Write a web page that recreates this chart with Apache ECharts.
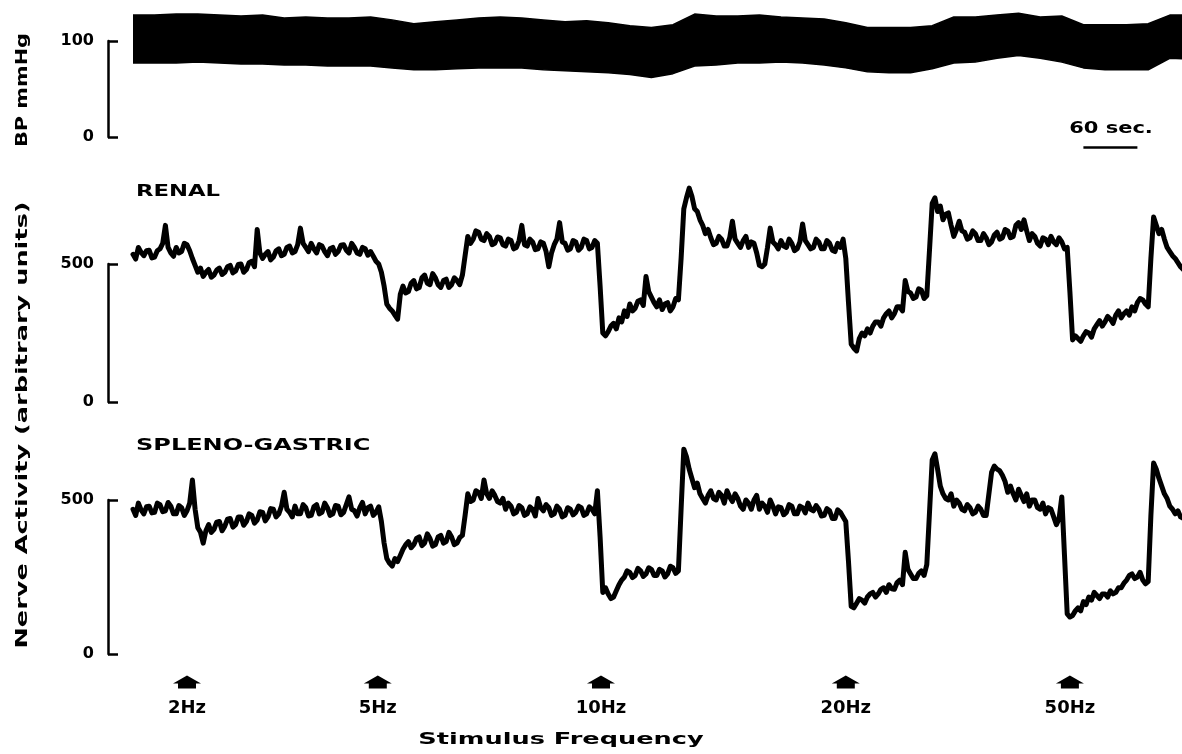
<!DOCTYPE html>
<html>
<head>
<meta charset="utf-8">
<script src="https://cdn.jsdelivr.net/npm/echarts@6/dist/echarts.min.js"></script>
<style>
html,body{margin:0;padding:0;background:#fff;}
#chart{width:1182px;height:754px;}
</style>
</head>
<body>
<div id="chart"></div>
<script>
// ---- DATA ----
// Time axis in seconds (0 = first sample of the traces)
const TIME_STEP = 3;      // nerve trace sample spacing (s)
const BP_STEP = 24;       // BP envelope sample spacing (s)
const X_MIN = -27.78;
const X_MAX = 1165.56;

// Blood pressure envelope (mmHg)
const bpTop = [127,127,128,128,127,126,127,124,125,124,124,125,122,118,120,122,124,125,124,122,
  120,121,119,116,114,117,128,126,126,127,125,124,123,119,114,114,114,116,125,125,
  127,129,125,126,117,117,117,118,127,127];
const bpBottom = [77,77,77,78,77,76,76,75,75,74,74,74,72,70,70,71,72,72,72,70,
  69,68,67,65,62,66,74,75,77,77,78,77,75,72,68,67,67,71,77,78,
  82,85,82,78,72,70,70,70,82,81];

// Renal nerve activity (arbitrary units)
const renal = [
  535,518,560,542,530,548,550,522,525,548,555,575,640,560,540,528,560,540,545,575,
  570,548,520,495,470,485,455,470,480,452,460,478,485,462,470,490,495,468,475,498,
  500,470,480,505,510,490,625,540,520,535,545,515,525,548,555,530,535,560,565,540,
  545,570,630,575,560,545,575,555,540,570,565,545,530,555,560,535,545,568,570,550,
  540,575,560,540,535,560,555,532,545,528,510,500,470,420,355,340,330,315,300,390,
  420,395,400,430,440,410,415,450,460,430,425,465,450,425,415,440,445,415,425,450,
  440,425,460,530,600,575,590,620,615,590,585,610,600,570,575,598,595,570,565,590,
  585,555,560,585,640,570,565,590,580,552,555,580,575,545,490,540,570,590,650,580,
  575,550,555,585,580,550,560,590,585,555,560,585,575,420,250,240,255,275,285,265,
  305,290,330,310,355,330,340,365,370,350,455,400,380,360,345,370,335,355,360,330,
  345,375,370,520,700,740,775,745,700,690,660,640,610,625,595,570,575,600,590,565,
  565,595,655,590,575,560,585,600,560,580,575,540,495,490,500,560,630,580,570,555,
  585,565,560,590,575,548,555,580,645,585,570,555,560,590,580,555,555,585,575,550,
  545,575,560,590,520,360,210,195,185,230,250,240,265,250,275,290,290,275,305,320,
  330,305,320,345,345,330,440,400,395,375,380,410,405,375,385,550,720,740,690,710,
  660,680,685,640,600,625,655,620,615,590,595,620,610,585,585,610,595,570,580,605,
  615,590,595,625,620,595,600,640,650,625,660,620,585,610,600,575,565,595,590,570,
  600,580,570,595,580,555,560,400,225,240,230,220,240,255,250,235,265,280,295,275,
  290,310,300,285,315,330,305,320,330,315,345,330,360,375,370,355,345,520,670,640,
  610,625,590,560,545,530,520,505,490,480];

// Spleno-gastric nerve activity (arbitrary units)
const spleno = [
  470,450,490,468,455,478,480,458,460,490,485,462,465,492,480,455,455,482,475,450,
  465,490,565,470,410,395,360,400,420,395,405,428,430,400,415,438,440,412,420,445,
  445,418,430,455,450,425,435,462,460,432,445,472,470,445,455,480,525,470,460,445,
  480,455,455,485,475,448,450,478,485,455,460,490,475,450,455,482,480,452,460,485,
  510,470,465,448,475,492,455,475,480,450,460,478,430,360,310,295,285,310,300,320,
  340,355,365,345,355,375,380,352,360,390,375,350,355,380,385,360,365,395,380,355,
  360,378,385,450,520,495,500,530,525,505,565,520,505,530,515,495,490,505,470,490,
  480,455,460,482,475,450,455,478,470,448,505,475,465,485,475,450,455,480,470,445,
  450,475,470,452,460,480,475,450,455,478,470,455,530,380,200,215,195,180,185,205,
  225,240,250,270,265,248,255,278,270,252,260,280,275,255,255,275,270,250,260,285,
  280,262,270,470,665,640,600,570,540,555,520,505,490,515,530,505,500,525,515,490,
  530,510,495,520,505,480,470,500,490,470,500,515,470,490,480,460,500,480,455,478,
  475,452,460,485,480,455,455,480,475,458,490,470,465,482,470,448,450,472,465,440,
  440,468,460,445,430,300,155,150,165,180,175,165,185,195,200,185,195,210,215,200,
  225,212,210,232,240,225,330,275,260,245,245,262,270,255,290,460,630,650,600,545,
  520,505,500,520,480,500,490,470,465,485,475,455,460,480,470,450,450,520,590,610,
  600,595,580,560,525,545,520,500,535,515,495,520,480,500,500,475,470,490,455,475,
  470,445,420,440,510,320,130,120,125,140,150,140,170,160,185,175,200,190,180,195,
  195,185,205,195,200,215,215,230,240,255,260,245,250,265,240,228,235,450,620,600,
  570,545,520,505,480,470,455,465,445,440];

// Stimulus markers
const stimLabels = ['2Hz','5Hz','10Hz','20Hz','50Hz'];
const stimTimes = [60, 272, 520, 792, 1041];

// Scale bar
const scaleBarStart = 1056;
const scaleBarSeconds = 60;

// ---- CHART ----
const FONT = '"DejaVu Sans", "Liberation Sans", sans-serif';
const black = '#000';

function yAxisCfg(gridIndex, max) {
  return {
    gridIndex: gridIndex, type: 'value', min: 0, max: max, interval: max,
    axisLine: {show: true, onZero: false, lineStyle: {color: black, width: 2.5}},
    axisTick: {show: true, inside: true, length: 10, lineStyle: {color: black, width: 2.5}},
    axisLabel: {color: black, fontFamily: FONT, fontWeight: 'bold', fontSize: 16, margin: 14},
    splitLine: {show: false}
  };
}
function xAxisCfg(gridIndex) {
  return {gridIndex: gridIndex, type: 'value', min: X_MIN, max: X_MAX, show: false};
}
const traceStyle = {color: black, width: 5, join: 'round', cap: 'round'};

const renalData = renal.map((v, i) => [i * TIME_STEP, v]);
const splenoData = spleno.map((v, i) => [i * TIME_STEP, v]);
const bpTopData = bpTop.map((v, i) => [i * BP_STEP, v]);
const bpBottomData = bpBottom.map((v, i) => [i * BP_STEP, v]);

function textEl(text, x, y, opts) {
  return Object.assign({
    type: 'text', x: x, y: y, z: 10,
    style: {text: text, font: 'bold ' + (opts.size || 16) + 'px ' + FONT, fill: black,
      align: opts.align || 'center', verticalAlign: 'middle',
      textAlign: opts.align || 'center', textVerticalAlign: 'middle'}
  }, opts.tf || {});
}

const option = {
  animation: false,
  backgroundColor: '#fff',
  grid: [
    {left: 108, right: 0, top: 41, height: 96},
    {left: 108, right: 0, top: 264, height: 138},
    {left: 108, right: 0, top: 500, height: 154}
  ],
  xAxis: [xAxisCfg(0), xAxisCfg(1), xAxisCfg(2)],
  yAxis: [yAxisCfg(0, 100), yAxisCfg(1, 500), yAxisCfg(2, 500)],
  series: [
    // BP band: upper envelope filled black down to 0, lower envelope filled white down to 0
    {type: 'line', xAxisIndex: 0, yAxisIndex: 0, data: bpTopData,
      symbol: 'none', clip: false, lineStyle: {color: black, width: 1.5},
      areaStyle: {color: black, opacity: 1, origin: 'start'}, silent: true, z: 2},
    {type: 'line', xAxisIndex: 0, yAxisIndex: 0, data: bpBottomData,
      symbol: 'none', clip: false, lineStyle: {color: black, width: 1.5},
      areaStyle: {color: '#fff', opacity: 1, origin: 'start'}, silent: true, z: 3},
    {type: 'line', xAxisIndex: 0, yAxisIndex: 0,
      data: [[scaleBarStart, -11], [scaleBarStart + scaleBarSeconds, -11]],
      symbol: 'none', clip: false, lineStyle: {color: black, width: 2.5}, silent: true, z: 4},
    {type: 'line', xAxisIndex: 1, yAxisIndex: 1, data: renalData, symbol: 'none',
      clip: false, lineStyle: traceStyle, silent: true},
    {type: 'line', xAxisIndex: 2, yAxisIndex: 2, data: splenoData, symbol: 'none',
      clip: false, lineStyle: traceStyle, silent: true},
    {type: 'scatter', xAxisIndex: 2, yAxisIndex: 2, clip: false, silent: true,
      data: stimTimes.map((t, i) => ({value: [t, -91], name: stimLabels[i]})),
      symbol: 'path://M14,0 L28,8 L23,8 L23,13 L5,13 L5,8 L0,8 Z',
      symbolSize: [28, 13], itemStyle: {color: black, opacity: 1},
      label: {show: true, position: 'bottom', distance: 11, formatter: p => p.name,
        color: black, opacity: 1, fontFamily: FONT, fontWeight: 'bold', fontSize: 18}}
  ],
  graphic: [
    textEl('BP mmHg', 23, 90, {tf: {rotation: Math.PI / 2, scaleX: 1.3}}),
    textEl('Nerve Activity (arbitrary units)', 23, 425, {tf: {rotation: Math.PI / 2, scaleX: 1.6}}),
    textEl('RENAL', 136, 192, {align: 'left', tf: {scaleX: 1.42}}),
    textEl('SPLENO-GASTRIC', 136, 446, {align: 'left', tf: {scaleX: 1.5}}),
    textEl('60 sec.', 1111, 129, {size: 15, tf: {scaleX: 1.4}}),
    textEl('Stimulus Frequency', 561, 740, {tf: {scaleX: 1.6}})
  ]
};

const chart = echarts.init(document.getElementById('chart'), null, {renderer: 'canvas'});
chart.setOption(option);
</script>
</body>
</html>
